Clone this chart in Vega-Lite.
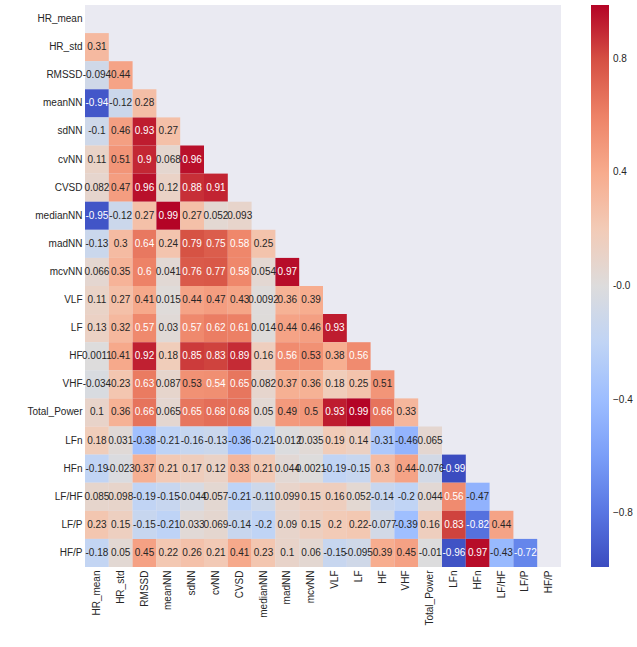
{
  "$schema": "https://vega.github.io/schema/vega-lite/v6.json",
  "autosize": {"type": "none"},
  "padding": {"left": 85, "top": 5, "right": 76, "bottom": 80},
  "width": 476,
  "height": 562,
  "background": "white",
  "config": {
    "view": {"stroke": null, "fill": "#eaeaf2"},
    "font": "Liberation Sans",
    "axis": {"domain": false, "ticks": false, "title": null, "labelFont": "Liberation Sans", "labelFontSize": 10, "labelColor": "#262626", "labelPadding": 3},
    "legend": {"labelFont": "Liberation Sans", "labelFontSize": 10, "labelColor": "#262626"}
  },
  "data": {"values": [
    {"r":"HR_std","c":"HR_mean","v":0.31},
    {"r":"RMSSD","c":"HR_mean","v":-0.094},{"r":"RMSSD","c":"HR_std","v":0.44},
    {"r":"meanNN","c":"HR_mean","v":-0.94},{"r":"meanNN","c":"HR_std","v":-0.12},{"r":"meanNN","c":"RMSSD","v":0.28},
    {"r":"sdNN","c":"HR_mean","v":-0.1},{"r":"sdNN","c":"HR_std","v":0.46},{"r":"sdNN","c":"RMSSD","v":0.93},{"r":"sdNN","c":"meanNN","v":0.27},
    {"r":"cvNN","c":"HR_mean","v":0.11},{"r":"cvNN","c":"HR_std","v":0.51},{"r":"cvNN","c":"RMSSD","v":0.9},{"r":"cvNN","c":"meanNN","v":0.068},{"r":"cvNN","c":"sdNN","v":0.96},
    {"r":"CVSD","c":"HR_mean","v":0.082},{"r":"CVSD","c":"HR_std","v":0.47},{"r":"CVSD","c":"RMSSD","v":0.96},{"r":"CVSD","c":"meanNN","v":0.12},{"r":"CVSD","c":"sdNN","v":0.88},{"r":"CVSD","c":"cvNN","v":0.91},
    {"r":"medianNN","c":"HR_mean","v":-0.95},{"r":"medianNN","c":"HR_std","v":-0.12},{"r":"medianNN","c":"RMSSD","v":0.27},{"r":"medianNN","c":"meanNN","v":0.99},{"r":"medianNN","c":"sdNN","v":0.27},{"r":"medianNN","c":"cvNN","v":0.052},{"r":"medianNN","c":"CVSD","v":0.093},
    {"r":"madNN","c":"HR_mean","v":-0.13},{"r":"madNN","c":"HR_std","v":0.3},{"r":"madNN","c":"RMSSD","v":0.64},{"r":"madNN","c":"meanNN","v":0.24},{"r":"madNN","c":"sdNN","v":0.79},{"r":"madNN","c":"cvNN","v":0.75},{"r":"madNN","c":"CVSD","v":0.58},{"r":"madNN","c":"medianNN","v":0.25},
    {"r":"mcvNN","c":"HR_mean","v":0.066},{"r":"mcvNN","c":"HR_std","v":0.35},{"r":"mcvNN","c":"RMSSD","v":0.6},{"r":"mcvNN","c":"meanNN","v":0.041},{"r":"mcvNN","c":"sdNN","v":0.76},{"r":"mcvNN","c":"cvNN","v":0.77},{"r":"mcvNN","c":"CVSD","v":0.58},{"r":"mcvNN","c":"medianNN","v":0.054},{"r":"mcvNN","c":"madNN","v":0.97},
    {"r":"VLF","c":"HR_mean","v":0.11},{"r":"VLF","c":"HR_std","v":0.27},{"r":"VLF","c":"RMSSD","v":0.41},{"r":"VLF","c":"meanNN","v":0.015},{"r":"VLF","c":"sdNN","v":0.44},{"r":"VLF","c":"cvNN","v":0.47},{"r":"VLF","c":"CVSD","v":0.43},{"r":"VLF","c":"medianNN","v":0.0092},{"r":"VLF","c":"madNN","v":0.36},{"r":"VLF","c":"mcvNN","v":0.39},
    {"r":"LF","c":"HR_mean","v":0.13},{"r":"LF","c":"HR_std","v":0.32},{"r":"LF","c":"RMSSD","v":0.57},{"r":"LF","c":"meanNN","v":0.03},{"r":"LF","c":"sdNN","v":0.57},{"r":"LF","c":"cvNN","v":0.62},{"r":"LF","c":"CVSD","v":0.61},{"r":"LF","c":"medianNN","v":0.014},{"r":"LF","c":"madNN","v":0.44},{"r":"LF","c":"mcvNN","v":0.46},{"r":"LF","c":"VLF","v":0.93},
    {"r":"HF","c":"HR_mean","v":0.0011},{"r":"HF","c":"HR_std","v":0.41},{"r":"HF","c":"RMSSD","v":0.92},{"r":"HF","c":"meanNN","v":0.18},{"r":"HF","c":"sdNN","v":0.85},{"r":"HF","c":"cvNN","v":0.83},{"r":"HF","c":"CVSD","v":0.89},{"r":"HF","c":"medianNN","v":0.16},{"r":"HF","c":"madNN","v":0.56},{"r":"HF","c":"mcvNN","v":0.53},{"r":"HF","c":"VLF","v":0.38},{"r":"HF","c":"LF","v":0.56},
    {"r":"VHF","c":"HR_mean","v":-0.034},{"r":"VHF","c":"HR_std","v":0.23},{"r":"VHF","c":"RMSSD","v":0.63},{"r":"VHF","c":"meanNN","v":0.087},{"r":"VHF","c":"sdNN","v":0.53},{"r":"VHF","c":"cvNN","v":0.54},{"r":"VHF","c":"CVSD","v":0.65},{"r":"VHF","c":"medianNN","v":0.082},{"r":"VHF","c":"madNN","v":0.37},{"r":"VHF","c":"mcvNN","v":0.36},{"r":"VHF","c":"VLF","v":0.18},{"r":"VHF","c":"LF","v":0.25},{"r":"VHF","c":"HF","v":0.51},
    {"r":"Total_Power","c":"HR_mean","v":0.1},{"r":"Total_Power","c":"HR_std","v":0.36},{"r":"Total_Power","c":"RMSSD","v":0.66},{"r":"Total_Power","c":"meanNN","v":0.065},{"r":"Total_Power","c":"sdNN","v":0.65},{"r":"Total_Power","c":"cvNN","v":0.68},{"r":"Total_Power","c":"CVSD","v":0.68},{"r":"Total_Power","c":"medianNN","v":0.05},{"r":"Total_Power","c":"madNN","v":0.49},{"r":"Total_Power","c":"mcvNN","v":0.5},{"r":"Total_Power","c":"VLF","v":0.93},{"r":"Total_Power","c":"LF","v":0.99},{"r":"Total_Power","c":"HF","v":0.66},{"r":"Total_Power","c":"VHF","v":0.33},
    {"r":"LFn","c":"HR_mean","v":0.18},{"r":"LFn","c":"HR_std","v":0.031},{"r":"LFn","c":"RMSSD","v":-0.38},{"r":"LFn","c":"meanNN","v":-0.21},{"r":"LFn","c":"sdNN","v":-0.16},{"r":"LFn","c":"cvNN","v":-0.13},{"r":"LFn","c":"CVSD","v":-0.36},{"r":"LFn","c":"medianNN","v":-0.21},{"r":"LFn","c":"madNN","v":-0.012},{"r":"LFn","c":"mcvNN","v":0.035},{"r":"LFn","c":"VLF","v":0.19},{"r":"LFn","c":"LF","v":0.14},{"r":"LFn","c":"HF","v":-0.31},{"r":"LFn","c":"VHF","v":-0.46},{"r":"LFn","c":"Total_Power","v":0.065},
    {"r":"HFn","c":"HR_mean","v":-0.19},{"r":"HFn","c":"HR_std","v":-0.023},{"r":"HFn","c":"RMSSD","v":0.37},{"r":"HFn","c":"meanNN","v":0.21},{"r":"HFn","c":"sdNN","v":0.17},{"r":"HFn","c":"cvNN","v":0.12},{"r":"HFn","c":"CVSD","v":0.33},{"r":"HFn","c":"medianNN","v":0.21},{"r":"HFn","c":"madNN","v":0.044},{"r":"HFn","c":"mcvNN","v":0.0021},{"r":"HFn","c":"VLF","v":-0.19},{"r":"HFn","c":"LF","v":-0.15},{"r":"HFn","c":"HF","v":0.3},{"r":"HFn","c":"VHF","v":0.44},{"r":"HFn","c":"Total_Power","v":-0.076},{"r":"HFn","c":"LFn","v":-0.99},
    {"r":"LF/HF","c":"HR_mean","v":0.085},{"r":"LF/HF","c":"HR_std","v":0.098},{"r":"LF/HF","c":"RMSSD","v":-0.19},{"r":"LF/HF","c":"meanNN","v":-0.15},{"r":"LF/HF","c":"sdNN","v":-0.044},{"r":"LF/HF","c":"cvNN","v":0.057},{"r":"LF/HF","c":"CVSD","v":-0.21},{"r":"LF/HF","c":"medianNN","v":-0.11},{"r":"LF/HF","c":"madNN","v":0.099},{"r":"LF/HF","c":"mcvNN","v":0.15},{"r":"LF/HF","c":"VLF","v":0.16},{"r":"LF/HF","c":"LF","v":0.052},{"r":"LF/HF","c":"HF","v":-0.14},{"r":"LF/HF","c":"VHF","v":-0.2},{"r":"LF/HF","c":"Total_Power","v":0.044},{"r":"LF/HF","c":"LFn","v":0.56},{"r":"LF/HF","c":"HFn","v":-0.47},
    {"r":"LF/P","c":"HR_mean","v":0.23},{"r":"LF/P","c":"HR_std","v":0.15},{"r":"LF/P","c":"RMSSD","v":-0.15},{"r":"LF/P","c":"meanNN","v":-0.21},{"r":"LF/P","c":"sdNN","v":0.033},{"r":"LF/P","c":"cvNN","v":0.069},{"r":"LF/P","c":"CVSD","v":-0.14},{"r":"LF/P","c":"medianNN","v":-0.2},{"r":"LF/P","c":"madNN","v":0.09},{"r":"LF/P","c":"mcvNN","v":0.15},{"r":"LF/P","c":"VLF","v":0.2},{"r":"LF/P","c":"LF","v":0.22},{"r":"LF/P","c":"HF","v":-0.077},{"r":"LF/P","c":"VHF","v":-0.39},{"r":"LF/P","c":"Total_Power","v":0.16},{"r":"LF/P","c":"LFn","v":0.83},{"r":"LF/P","c":"HFn","v":-0.82},{"r":"LF/P","c":"LF/HF","v":0.44},
    {"r":"HF/P","c":"HR_mean","v":-0.18},{"r":"HF/P","c":"HR_std","v":0.05},{"r":"HF/P","c":"RMSSD","v":0.45},{"r":"HF/P","c":"meanNN","v":0.22},{"r":"HF/P","c":"sdNN","v":0.26},{"r":"HF/P","c":"cvNN","v":0.21},{"r":"HF/P","c":"CVSD","v":0.41},{"r":"HF/P","c":"medianNN","v":0.23},{"r":"HF/P","c":"madNN","v":0.1},{"r":"HF/P","c":"mcvNN","v":0.06},{"r":"HF/P","c":"VLF","v":-0.15},{"r":"HF/P","c":"LF","v":-0.095},{"r":"HF/P","c":"HF","v":0.39},{"r":"HF/P","c":"VHF","v":0.45},{"r":"HF/P","c":"Total_Power","v":-0.01},{"r":"HF/P","c":"LFn","v":-0.96},{"r":"HF/P","c":"HFn","v":0.97},{"r":"HF/P","c":"LF/HF","v":-0.43},{"r":"HF/P","c":"LF/P","v":-0.72}
  ]},
  "encoding": {
    "x": {"field": "c", "type": "nominal",
          "scale": {"domain": ["HR_mean","HR_std","RMSSD","meanNN","sdNN","cvNN","CVSD","medianNN","madNN","mcvNN","VLF","LF","HF","VHF","Total_Power","LFn","HFn","LF/HF","LF/P","HF/P"], "paddingInner": 0, "paddingOuter": 0},
          "axis": {"labelAngle": 270, "orient": "bottom"}},
    "y": {"field": "r", "type": "nominal",
          "scale": {"domain": ["HR_mean","HR_std","RMSSD","meanNN","sdNN","cvNN","CVSD","medianNN","madNN","mcvNN","VLF","LF","HF","VHF","Total_Power","LFn","HFn","LF/HF","LF/P","HF/P"], "paddingInner": 0, "paddingOuter": 0},
          "axis": {"labelAngle": 0}}
  },
  "layer": [
    {
      "mark": {"type": "rect", "strokeWidth": 0},
      "encoding": {
        "color": {"field": "v", "type": "quantitative",
          "scale": {"domain": [-0.99,-0.792,-0.594,-0.396,-0.198,0,0.198,0.396,0.594,0.792,0.99],
                    "range": ["#3b4cc0","#5977e3","#7b9ff9","#9ebeff","#c0d4f5","#dddcdc","#f2cbb7","#f7ac8e","#ee8468","#d65244","#b40426"],
                    "interpolate": "rgb"},
          "legend": {"title": null, "type": "gradient", "direction": "vertical", "orient": "right", "offset": 30,
                     "gradientLength": 562, "gradientThickness": 18, "gradientStrokeWidth": 0,
                     "values": [0.8, 0.4, 0, -0.4, -0.8],
                     "labelExpr": "datum.value == 0 ? '-0.0' : format(datum.value, '.1f')",
                     "labelOffset": 4}}
      }
    },
    {
      "mark": {"type": "text", "fontSize": 10, "font": "Liberation Sans", "baseline": "middle", "align": "center"},
      "encoding": {
        "text": {"field": "v", "type": "nominal"},
        "color": {"condition": {"test": "datum.v >= 0.54 || datum.v <= -0.6", "value": "#ffffff"}, "value": "#262626"}
      }
    }
  ]
}
